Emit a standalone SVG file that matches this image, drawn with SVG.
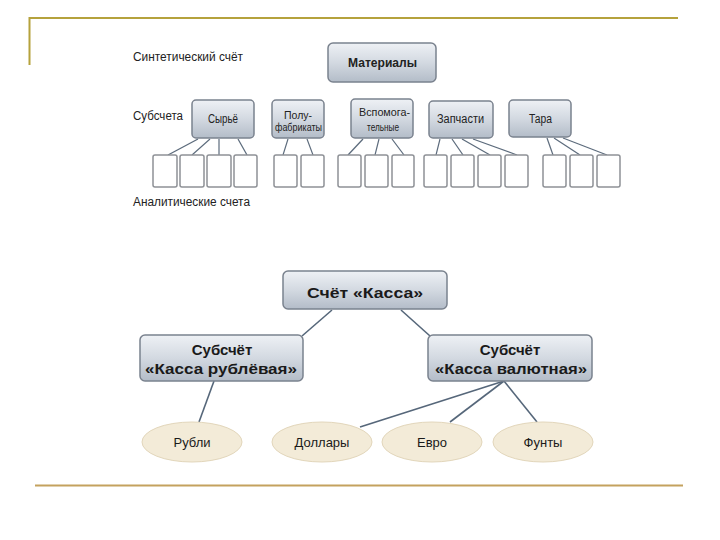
<svg xmlns="http://www.w3.org/2000/svg" width="720" height="540" viewBox="0 0 720 540">
<defs>
<linearGradient id="g" x1="0" y1="0" x2="0" y2="1">
<stop offset="0" stop-color="#eef1f5"/>
<stop offset="0.5" stop-color="#d3d9e1"/>
<stop offset="1" stop-color="#b3bcc8"/>
</linearGradient>
<style>
.box{fill:url(#g);stroke:#7a828e;stroke-width:1.5}
.leaf{fill:#fff;stroke:#8e9196;stroke-width:1.5}
.ell{fill:#f3ebd8;stroke:#e2d6bb;stroke-width:1}
.ln{stroke:#5c6b7c;stroke-width:1.2;fill:none}
.ln2{stroke:#56677a;stroke-width:1.6;fill:none}
.t{font-family:"Liberation Sans",Arial,sans-serif;font-size:12px;fill:#222}
.ts{font-family:"Liberation Sans",Arial,sans-serif;font-size:10.5px;fill:#222}
.tb{font-family:"Liberation Sans",Arial,sans-serif;font-size:12px;font-weight:bold;fill:#222}
.big{font-family:"Liberation Sans",Arial,sans-serif;font-size:15px;font-weight:bold;fill:#1a1a1a;text-anchor:middle}
.el{font-family:"Liberation Sans",Arial,sans-serif;font-size:13px;fill:#1a1a1a;text-anchor:middle}
</style>
</defs>
<rect width="720" height="540" fill="#fff"/>
<g id="frame">
<polyline points="29.5,65 29.5,18 678,18" fill="none" stroke="#b5a23c" stroke-width="2"/>
<line x1="35" y1="485.5" x2="683" y2="485.5" stroke="#c4a25e" stroke-width="2"/>
</g>
<g id="labels">
<text class="t" x="133" y="61" textLength="110" lengthAdjust="spacingAndGlyphs">Синтетический счёт</text>
<text class="t" x="133" y="120" textLength="50" lengthAdjust="spacingAndGlyphs">Субсчета</text>
<text class="t" x="133" y="206" textLength="117" lengthAdjust="spacingAndGlyphs">Аналитические счета</text>
</g>
<g id="connectors">
<line class="ln" x1="198" y1="139" x2="168" y2="155"/>
<line class="ln" x1="210" y1="139" x2="192" y2="155"/>
<line class="ln" x1="219" y1="139" x2="219" y2="155"/>
<line class="ln" x1="238" y1="139" x2="247" y2="155"/>
<line class="ln" x1="288" y1="139" x2="283" y2="155"/>
<line class="ln" x1="307" y1="139" x2="313" y2="155"/>
<line class="ln" x1="363" y1="139" x2="348" y2="155"/>
<line class="ln" x1="379" y1="139" x2="375" y2="155"/>
<line class="ln" x1="392" y1="139" x2="404" y2="155"/>
<line class="ln" x1="440" y1="139" x2="436" y2="155"/>
<line class="ln" x1="452" y1="139" x2="463" y2="155"/>
<line class="ln" x1="462" y1="139" x2="490" y2="155"/>
<line class="ln" x1="473" y1="139" x2="517" y2="155"/>
<line class="ln" x1="547" y1="138" x2="553" y2="155"/>
<line class="ln" x1="554" y1="138" x2="580" y2="155"/>
<line class="ln" x1="563" y1="138" x2="607" y2="155"/>
<line class="ln2" x1="332" y1="310" x2="302" y2="336"/>
<line class="ln2" x1="401" y1="310" x2="430" y2="336"/>
<line class="ln2" x1="214" y1="381" x2="199" y2="422"/>
<line class="ln2" x1="504" y1="381" x2="360" y2="427"/>
<line class="ln2" x1="504" y1="381" x2="450" y2="422"/>
<line class="ln2" x1="504" y1="381" x2="537" y2="422"/>
</g>
<g id="materialy">
<rect class="box" x="328" y="43" width="108" height="39" rx="5"/>
<text class="tb" x="348" y="67" textLength="69" lengthAdjust="spacingAndGlyphs">Материалы</text>
</g>
<g id="syrye">
<rect class="box" x="192" y="100" width="62" height="38" rx="4"/>
<text class="t" x="208" y="123" textLength="30" lengthAdjust="spacingAndGlyphs">Сырьё</text>
</g>
<g id="polufabrikaty">
<rect class="box" x="272" y="100" width="52" height="38" rx="4"/>
<text class="ts" x="284" y="119" textLength="28" lengthAdjust="spacingAndGlyphs">Полу-</text>
<text class="ts" x="275" y="131" textLength="47" lengthAdjust="spacingAndGlyphs">фабрикаты</text>
</g>
<g id="vspomogatelnye">
<rect class="box" x="351" y="99" width="62" height="39" rx="4"/>
<text class="ts" x="359" y="116" textLength="51" lengthAdjust="spacingAndGlyphs">Вспомога-</text>
<text class="ts" x="367" y="131" textLength="32" lengthAdjust="spacingAndGlyphs">тельные</text>
</g>
<g id="zapchasti">
<rect class="box" x="429" y="101" width="64" height="37" rx="4"/>
<text class="t" x="437" y="123" textLength="47" lengthAdjust="spacingAndGlyphs">Запчасти</text>
</g>
<g id="tara">
<rect class="box" x="509" y="100" width="62" height="37" rx="4"/>
<text class="t" x="529" y="123" textLength="23" lengthAdjust="spacingAndGlyphs">Тара</text>
</g>
<g id="analytic">
<rect class="leaf" x="153" y="155" width="24" height="32" rx="2"/>
<rect class="leaf" x="180" y="155" width="24" height="32" rx="2"/>
<rect class="leaf" x="207" y="155" width="24" height="32" rx="2"/>
<rect class="leaf" x="234" y="155" width="23" height="32" rx="2"/>
<rect class="leaf" x="274" y="155" width="23" height="32" rx="2"/>
<rect class="leaf" x="301" y="155" width="23" height="32" rx="2"/>
<rect class="leaf" x="338" y="155" width="23" height="32" rx="2"/>
<rect class="leaf" x="365" y="155" width="23" height="32" rx="2"/>
<rect class="leaf" x="392" y="155" width="22" height="32" rx="2"/>
<rect class="leaf" x="424" y="155" width="23" height="32" rx="2"/>
<rect class="leaf" x="451" y="155" width="23" height="32" rx="2"/>
<rect class="leaf" x="478" y="155" width="23" height="32" rx="2"/>
<rect class="leaf" x="505" y="155" width="23" height="32" rx="2"/>
<rect class="leaf" x="543" y="155" width="23" height="32" rx="2"/>
<rect class="leaf" x="570" y="155" width="23" height="32" rx="2"/>
<rect class="leaf" x="597" y="155" width="23" height="32" rx="2"/>
</g>
<g id="kassa">
<rect class="box" x="283" y="271" width="164" height="38" rx="5"/>
<text class="big" x="365" y="298" textLength="116" lengthAdjust="spacingAndGlyphs">Счёт «Касса»</text>
</g>
<g id="kassa-rub">
<rect class="box" x="140" y="335" width="163" height="46" rx="5"/>
<text class="big" x="222" y="355">Субсчёт</text>
<text class="big" x="221" y="374" textLength="152" lengthAdjust="spacingAndGlyphs">«Касса рублёвая»</text>
</g>
<g id="kassa-val">
<rect class="box" x="428" y="335" width="164" height="46" rx="5"/>
<text class="big" x="510" y="355">Субсчёт</text>
<text class="big" x="511" y="374" textLength="152" lengthAdjust="spacingAndGlyphs">«Касса валютная»</text>
</g>
<g id="rubli">
<ellipse class="ell" cx="192" cy="442" rx="50" ry="20"/>
<text class="el" x="192" y="447">Рубли</text>
</g>
<g id="dollary">
<ellipse class="ell" cx="322" cy="442" rx="50" ry="20"/>
<text class="el" x="322" y="447">Доллары</text>
</g>
<g id="evro">
<ellipse class="ell" cx="432" cy="442" rx="50" ry="20"/>
<text class="el" x="432" y="447">Евро</text>
</g>
<g id="funty">
<ellipse class="ell" cx="543" cy="442" rx="50" ry="20"/>
<text class="el" x="543" y="447">Фунты</text>
</g>
</svg>
